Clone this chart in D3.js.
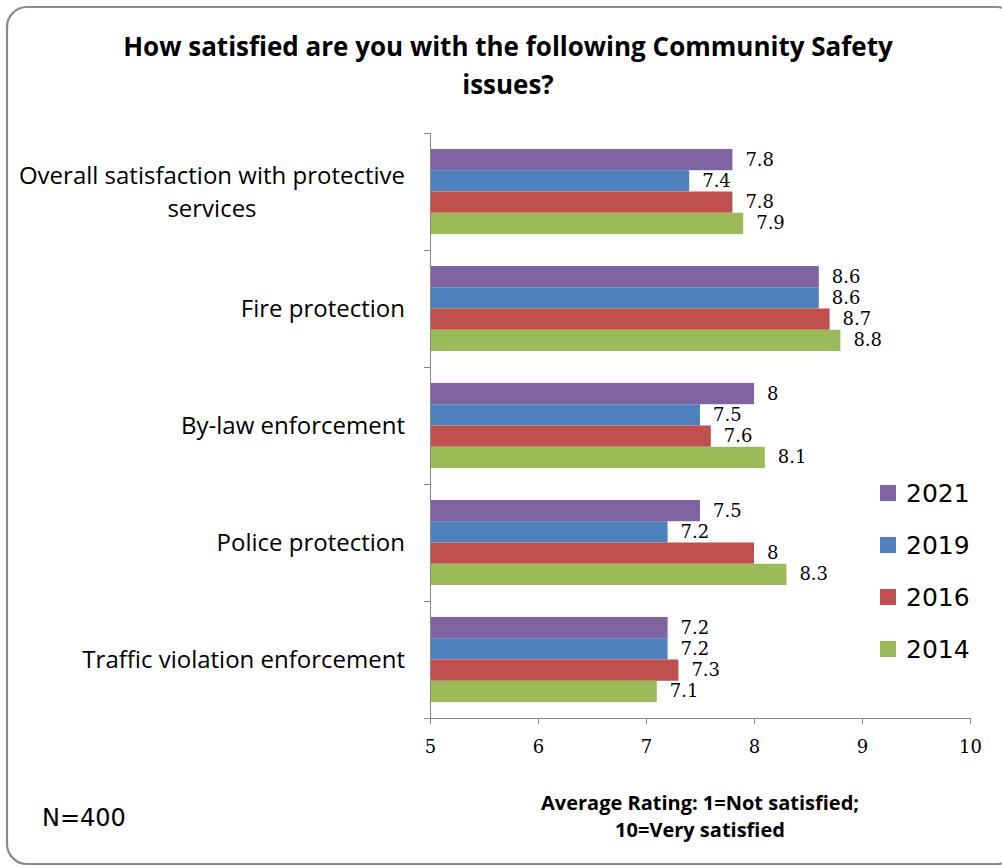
<!DOCTYPE html>
<html>
<head>
<meta charset="utf-8">
<script src="https://cdn.jsdelivr.net/npm/d3@7"></script>
<style>
  html, body { margin: 0; padding: 0; background: #fff; }
  svg { display: block; }
</style>
</head>
<body>
<svg id="chart" width="1002" height="867"></svg>
<script>
// Survey items (top to bottom) and yearly average ratings
const categories = [
  "Overall satisfaction with protective services",
  "Fire protection",
  "By-law enforcement",
  "Police protection",
  "Traffic violation enforcement"
];
const years = ["2021", "2019", "2016", "2014"];
const values2021 = [7.8, 8.6, 8.0, 7.5, 7.2];
const values2019 = [7.4, 8.6, 7.5, 7.2, 7.2];
const values2016 = [7.8, 8.7, 7.6, 8.0, 7.3];
const values2014 = [7.9, 8.8, 8.1, 8.3, 7.1];
const xTicks = [5, 6, 7, 8, 9, 10];

const seriesValues = [values2021, values2019, values2016, values2014];
const colors = ["#8064A2", "#4F81BD", "#C0504D", "#9BBB59"];

const svg = d3.select("#chart");

// Rounded frame around the whole chart
svg.append("rect")
  .attr("x", 7).attr("y", 7)
  .attr("width", 1010).attr("height", 857)
  .attr("rx", 20).attr("ry", 20)
  .attr("fill", "#fff")
  .attr("stroke", "#8a8a8a")
  .attr("stroke-width", 2.2);

// Title
const title = svg.append("text")
  .attr("text-anchor", "middle")
  .attr("font-family", "'Open Sans', sans-serif")
  .attr("font-weight", "bold")
  .attr("font-size", 26)
  .attr("fill", "#000");
title.append("tspan").attr("x", 508).attr("y", 56)
  .text("How satisfied are you with the following Community Safety");
title.append("tspan").attr("x", 508).attr("y", 94).text("issues?");

// Scales
const x = d3.scaleLinear().domain([5, 10]).range([430, 970]);
const y = d3.scaleBand().domain(categories).range([133, 718]).paddingInner(0).paddingOuter(0);
const ySeries = d3.scaleBand().domain(years).range([0, y.bandwidth()])
  .paddingInner(0).paddingOuter(0.75);

// Bars
const groups = svg.append("g").selectAll("g")
  .data(categories)
  .join("g")
  .attr("transform", d => `translate(0,${y(d)})`);

groups.each(function(cat, ci) {
  const g = d3.select(this);
  const rows = years.map((yr, si) => ({ yr, si, v: seriesValues[si][ci] }));
  g.selectAll("rect")
    .data(rows)
    .join("rect")
    .attr("x", x(5))
    .attr("y", d => ySeries(d.yr))
    .attr("width", d => x(d.v) - x(5))
    .attr("height", ySeries.bandwidth())
    .attr("fill", d => colors[d.si]);
  g.selectAll("text")
    .data(rows)
    .join("text")
    .attr("x", d => x(d.v) + 13)
    .attr("y", d => ySeries(d.yr) + ySeries.bandwidth() / 2 + 1)
    .attr("dominant-baseline", "middle")
    .attr("font-family", "'DejaVu Serif', serif")
    .attr("font-size", 18)
    .attr("fill", "#000")
    .text(d => d3.format("")(d.v));
});

// X axis
const xAxis = svg.append("g")
  .attr("transform", `translate(0,718)`)
  .call(d3.axisBottom(x).tickValues(xTicks).tickFormat(d3.format("d"))
    .tickSize(6).tickPadding(16).tickSizeOuter(0));
xAxis.select(".domain").attr("stroke", "#888").attr("d", "M424,0.5H970");
xAxis.selectAll(".tick line").attr("stroke", "#888");
xAxis.selectAll(".tick text")
  .attr("font-family", "'DejaVu Serif', serif")
  .attr("font-size", 18)
  .attr("fill", "#000");

// Y axis with ticks on category boundaries
const yAxisG = svg.append("g");
yAxisG.append("line")
  .attr("x1", 430.5).attr("x2", 430.5).attr("y1", 133).attr("y2", 718)
  .attr("stroke", "#888");
const bounds = categories.map(c => y(c)).concat([y.range()[1]]);
yAxisG.selectAll("line.tk")
  .data(bounds)
  .join("line")
  .attr("class", "tk")
  .attr("x1", 424).attr("x2", 430.5)
  .attr("y1", d => Math.round(d) + 0.5).attr("y2", d => Math.round(d) + 0.5)
  .attr("stroke", "#888");

// Category labels (long label wrapped to two centred lines, right-aligned block)
const labelRight = 405;
const catLabels = svg.append("g")
  .attr("font-family", "'Open Sans', sans-serif")
  .attr("font-size", 24)
  .attr("fill", "#000");
categories.forEach(c => {
  const cy = y(c) + y.bandwidth() / 2;
  if (c.length > 32) {
    const line1 = "Overall satisfaction with protective";
    const line2 = c.slice(line1.length + 1);
    const t = catLabels.append("text").attr("text-anchor", "middle");
    t.append("tspan").text(line1).attr("y", cy - 8);
    t.append("tspan").text(line2).attr("y", cy + 25);
    const w = t.select("tspan").node().getComputedTextLength();
    t.selectAll("tspan").attr("x", labelRight - w / 2);
  } else {
    catLabels.append("text")
      .attr("x", labelRight).attr("y", cy + 8)
      .attr("text-anchor", "end")
      .text(c);
  }
});

// Legend
const legend = svg.append("g");
years.forEach((yr, i) => {
  const ly = 493 + i * 52;
  legend.append("rect")
    .attr("x", 880).attr("y", ly - 8).attr("width", 16).attr("height", 16)
    .attr("fill", colors[i]);
  legend.append("text")
    .attr("x", 906).attr("y", ly + 9)
    .attr("font-family", "'DejaVu Sans', sans-serif")
    .attr("font-size", 25)
    .attr("fill", "#000")
    .text(yr);
});

// Axis title
const axTitle = svg.append("text")
  .attr("text-anchor", "middle")
  .attr("font-family", "'Open Sans', sans-serif")
  .attr("font-weight", "bold")
  .attr("font-size", 20)
  .attr("fill", "#000");
axTitle.append("tspan").attr("x", 700).attr("y", 810).text("Average Rating: 1=Not satisfied;");
axTitle.append("tspan").attr("x", 700).attr("y", 837).text("10=Very satisfied");

// Sample size note
svg.append("text")
  .attr("x", 42).attr("y", 826)
  .attr("font-family", "'DejaVu Sans', sans-serif")
  .attr("font-size", 24)
  .attr("fill", "#000")
  .text("N=400");
</script>
</body>
</html>
